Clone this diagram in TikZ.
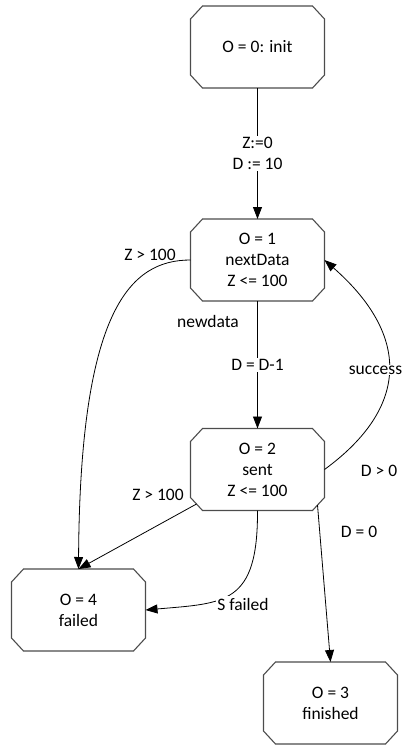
\documentclass[tikz,border=0pt]{standalone}
\usepackage{fontspec}
\setmainfont{Carlito}
\usetikzlibrary{arrows.meta,calc}
\begin{document}
\begin{tikzpicture}[x=1pt,y=-1pt,
  font=\fontsize{17.5}{21}\selectfont,
  statebox/.style={rectangle, minimum width=133pt, minimum height=81pt,
    align=center, inner sep=0pt, outer sep=0.5pt},
  boxline/.style={draw=black!70, line width=1.1pt, line join=miter},
  edge/.style={draw=black, line width=0.8pt, -{Triangle[length=12pt,width=9pt]}},
  lbl/.style={inner sep=1.5pt, fill=white, align=center},
  plain/.style={inner sep=1pt, align=center}]
  \path[use as bounding box] (0,0) rectangle (403,745);

  % states
  \node[statebox] (s0) at (257.5,47)    {O = 0: init};
  \node[statebox] (s1) at (257.5,260)   {O = 1\\nextData\\Z <= 100};
  \node[statebox] (s2) at (257.5,469.5) {O = 2\\sent\\Z <= 100};
  \node[statebox] (s4) at (78.5,610)    {O = 4\\failed};
  \node[statebox] (s3) at (330.5,703)   {O = 3\\finished};

  % octagonal outlines with cut corners
  \foreach \n in {s0,s1,s2,s3,s4}
    \draw[boxline]
      ($(\n.north west)+(12,0)$) -- ($(\n.north east)+(-12,0)$)
      -- ($(\n.north east)+(0,13)$) -- ($(\n.south east)+(0,-13)$)
      -- ($(\n.south east)+(-12,0)$) -- ($(\n.south west)+(12,0)$)
      -- ($(\n.south west)+(0,-13)$) -- ($(\n.north west)+(0,13)$) -- cycle;

  % points on the lower cut corners of the "sent" state
  \coordinate (s2sw) at ($(s2.south west)+(6,-6.5)$);
  \coordinate (s2se) at ($(s2.south east)+(-7,-5.5)$);

  % transitions
  \draw[edge] (s0) -- (s1) node[lbl, midway] {Z:=0\\D := 10};
  \draw[edge] (s1) -- (s2) node[lbl, midway] {D = D-1};
  \node[plain] (lnew) at (208,321) {newdata};

  \draw[edge] (s1.west) .. controls (130,260) and (80,310) .. (s4.north);
  \node[plain] (lz1) at (150,255) {Z > 100};

  \draw[edge] (s2sw) -- (s4.north);
  \node[plain] (lz2) at (158,495) {Z > 100};

  \draw[edge] (s2.south) .. controls (258,605) and (225,603) .. (s4.east);
  \node[lbl] (lsf) at (243,604) {S failed};

  \draw[edge] (s2se) -- (s3.north);
  \node[plain] (ld0) at (359,532) {D = 0};

  \draw[edge] (s2.east) .. controls (410,407) and (410,335) .. (s1.east);
  \node[lbl, inner sep=0.5pt] (lsu) at (375.5,370) {success};
  \node[plain] (ldp) at (379,471) {D > 0};
\end{tikzpicture}
\end{document}
